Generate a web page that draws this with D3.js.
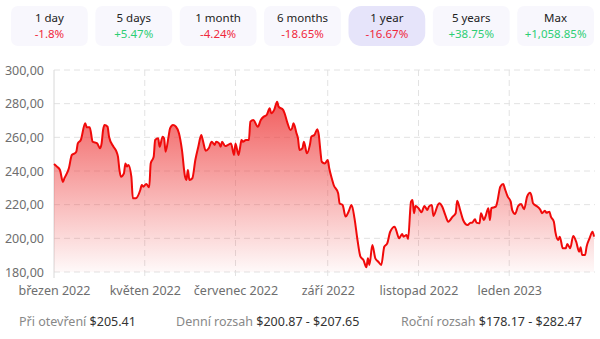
<!DOCTYPE html>
<html><head><meta charset="utf-8">
<script src="https://cdn.jsdelivr.net/npm/d3@7"></script>
<style>
html,body{margin:0;padding:0;background:#fff;}
svg{display:block;font-family:"Noto Sans",sans-serif;}
</style></head>
<body><svg id="c" width="600" height="339"></svg>
<script>
// ---- data ----
const periodLabels = ["1 day","5 days","1 month","6 months","1 year","5 years","Max"];
const periodChanges = ["-1.8%","+5.47%","-4.24%","-18.65%","-16.67%","+38.75%","+1,058.85%"];
const selectedPeriod = "1 year";
const startDate = "2022-03-01";
// day offsets from startDate
const dayOffsets = [0,2,4,6,7,10,12,14,15,16,18,21,22,24,26,29,31,32,33,34,36,37,40,42,43,44,45,47,48,49,50,52,53,55,58,59,60,62,64,65,67,68,70,71,73,74,75,77,78,80,82,84,86,88,89,90,91,93,95,97,99,100,102,104,106,108,109,111,112,113,115,117,119,121,122,124,125,126,127,129,131,132,134,137,139,141,143,145,146,148,150,151,154,155,157,159,160,161,163,164,165,167,168,170,172,173,175,177,178,179,180,182,184,185,187,188,191,192,194,196,198,200,202,204,206,208,210,211,212,214,216,218,220,222,224,226,229,230,232,234,235,237,238,240,241,242,243,245,247,249,251,252,254,255,258,259,261,263,265,268,270,271,273,275,278,280,281,283,284,286,287,289,290,292,293,294,297,298,300,302,303,305,307,308,310,312,314,316,318,320,321,322,325,327,328,330,331,333,334,336,337,339,340,342,344,345,347,349,351,353,354,355,357,358,360,362,363];
const prices = [244.2,242.6,240.6,233.5,235.7,241.6,249.5,250.5,251.5,256.4,258.4,268.3,266.0,266.0,257.4,256.4,253.5,256.4,264.4,267.3,266.3,260.4,254.4,251.5,248.5,240.6,236.6,238.6,244.5,242.6,243.6,236.6,223.8,223.8,228.7,231.7,230.7,232.3,230.3,244.5,248.5,258.4,259.4,254.4,260.4,259.4,251.5,260.4,265.3,267.3,266.3,262.4,252.5,237.0,234.7,240.6,234.7,235.7,246.5,254.4,261.4,258.4,252.1,253.5,257.4,255.5,257.4,256.4,254.4,257.4,254.8,255.5,256.4,249.5,256.4,249.5,253.5,258.4,257.4,258.4,258.4,269.3,270.3,266.3,270.3,272.3,273.3,277.3,274.3,276.3,281.2,278.2,276.3,274.3,268.3,264.4,265.3,268.3,262.4,259.4,252.5,253.5,257.4,250.5,255.5,260.4,261.4,264.8,261.4,252.5,245.5,244.5,246.5,241.6,234.7,231.7,226.8,220.8,219.8,212.9,215.8,219.8,211.9,199.0,189.1,187.1,182.8,188.1,184.2,196.0,188.1,186.1,184.2,195.0,197.0,203.9,206.9,204.9,200.0,202.6,201.0,202.0,199.6,221.8,222.8,214.9,219.2,217.9,215.5,219.2,216.8,218.8,219.8,213.3,219.8,220.8,218.8,213.9,209.9,212.9,214.9,222.4,216.8,210.9,207.9,209.3,209.3,211.3,209.3,208.9,214.9,210.9,212.9,217.9,210.9,217.9,218.8,221.8,230.7,232.3,229.7,224.8,221.8,216.8,214.5,219.2,220.4,217.3,224.8,227.1,225.2,220.8,218.8,216.8,214.9,216.4,215.2,215.8,212.9,209.9,203.9,199.0,201.0,194.1,194.1,196.6,194.1,201.4,198.0,192.1,194.7,190.1,190.1,195.0,200.0,203.9,201.0];
const yTicks = [180,200,220,240,260,280,300];
const xTickDates = ["2022-03-01","2022-05-01","2022-07-01","2022-09-01","2022-11-01","2023-01-01"];
const xTickLabels = ["březen 2022","květen 2022","červenec 2022","září 2022","listopad 2022","leden 2023"];
const footerLabels = ["Při otevření","Denní rozsah","Roční rozsah"];
const footerValues = ["$205.41","$200.87 - $207.65","$178.17 - $282.47"];

// ---- drawing ----
const svg = d3.select("#c");
const parse = d3.timeParse("%Y-%m-%d");
const t0 = parse(startDate);
const data = dayOffsets.map((d,i)=>({date:d3.timeDay.offset(t0,d), v:prices[i]}));

// period buttons
const bx = d3.scaleBand().domain(periodLabels).range([11,594]).paddingInner(0.09).paddingOuter(0);
const btn = svg.append("g").selectAll("g").data(periodLabels).join("g")
  .attr("transform", d=>`translate(${bx(d)},6)`);
btn.append("rect").attr("width", bx.bandwidth()).attr("height",40)
  .attr("rx", d=>d===selectedPeriod?13:7)
  .attr("fill", d=>d===selectedPeriod?"#e6e4fa":"#f8f7fd");
btn.append("text").attr("x", bx.bandwidth()/2).attr("y",15.5).attr("text-anchor","middle")
  .attr("font-size",11.5).attr("fill","#222").text(d=>d);
btn.append("text").attr("x", bx.bandwidth()/2).attr("y",31.5).attr("text-anchor","middle")
  .attr("font-size",11.5).attr("fill",(d,i)=>periodChanges[i].startsWith("-")?"#f0283c":"#2dce74")
  .text((d,i)=>periodChanges[i]);

// scales
const x = d3.scaleTime().domain([t0, d3.timeDay.offset(t0,365)]).range([54,597]);
const y = d3.scaleLinear().domain([180,300]).range([272,70]);

// grid
const grid = svg.append("g");
grid.selectAll("line.h").data(yTicks).join("line")
  .attr("x1",54).attr("x2",595).attr("y1",d=>y(d)).attr("y2",d=>y(d))
  .attr("stroke","#e2e2e2").attr("stroke-width",1).attr("stroke-dasharray","6,4");
grid.selectAll("line.v").data(xTickDates.slice(1)).join("line")
  .attr("x1",d=>x(parse(d))).attr("x2",d=>x(parse(d))).attr("y1",70).attr("y2",278)
  .attr("stroke","#e2e2e2").attr("stroke-width",1).attr("stroke-dasharray","6,4");
grid.append("line").attr("x1",54).attr("x2",54).attr("y1",70).attr("y2",278)
  .attr("stroke","#d8d8d8");

// y axis
const yAxis = svg.append("g").attr("transform","translate(47,0)")
  .call(d3.axisLeft(y).tickValues(yTicks).tickSize(0).tickFormat(d=>d3.format(".2f")(d).replace(".",",")));
yAxis.select(".domain").remove();
yAxis.selectAll("text").attr("font-size",12.5).attr("fill","#6e6e6e").attr("font-family","Noto Sans, sans-serif");

// x axis
const xAxis = svg.append("g").attr("transform","translate(0,283)")
  .call(d3.axisBottom(x).tickValues(xTickDates.map(parse)).tickSize(0).tickFormat((d,i)=>xTickLabels[i]));
xAxis.select(".domain").remove();
xAxis.selectAll("text").attr("font-size",12.5).attr("fill","#6e6e6e").attr("font-family","Noto Sans, sans-serif");

// gradient
const defs = svg.append("defs");
const gr = defs.append("linearGradient").attr("id","g").attr("gradientUnits","userSpaceOnUse")
  .attr("x1",0).attr("x2",0).attr("y1",y(285)).attr("y2",y(180));
gr.append("stop").attr("offset","0%").attr("stop-color","#ee3b3b").attr("stop-opacity",0.85);
gr.append("stop").attr("offset","100%").attr("stop-color","#ee3b3b").attr("stop-opacity",0.03);

const area = d3.area().x(d=>x(d.date)).y0(y(180)).y1(d=>y(d.v)).curve(d3.curveMonotoneX);
const line = d3.line().x(d=>x(d.date)).y(d=>y(d.v)).curve(d3.curveMonotoneX);
svg.append("path").datum(data).attr("d",area).attr("fill","url(#g)");
svg.append("path").datum(data).attr("d",line).attr("fill","none").attr("stroke","#f00a0a").attr("stroke-width",2).attr("stroke-linejoin","round");

// footer
const fx = [19,176,401];
const ft = svg.append("g");
footerLabels.forEach((l,i)=>{
  const t = ft.append("text").attr("x",fx[i]).attr("y",326).attr("font-size",12.5);
  t.append("tspan").attr("fill","#888").text(l+" ");
  t.append("tspan").attr("fill","#333").text(footerValues[i]);
});
</script></body></html>
